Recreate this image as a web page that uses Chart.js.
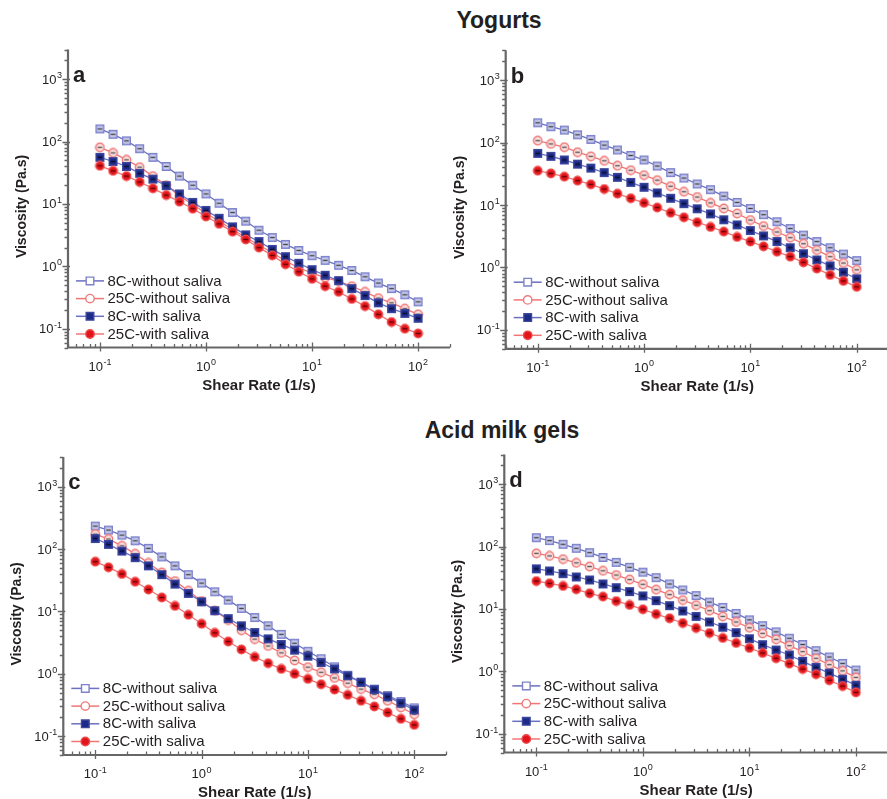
<!DOCTYPE html>
<html>
<head>
<meta charset="utf-8">
<title>Viscosity vs shear rate</title>
<script src="https://cdn.jsdelivr.net/npm/chart.js@4.4.1/dist/chart.umd.min.js"></script>
<style>
  html, body { margin: 0; padding: 0; background: #fff; }
  body { width: 887px; height: 799px; overflow: hidden; position: relative;
         font-family: "Liberation Sans", Arial, Helvetica, sans-serif; }
  .heading { position: absolute; width: 240px; text-align: center; font-weight: bold;
             font-size: 23px; line-height: 26px; color: #231f20; white-space: nowrap; }
  .panel { position: absolute; }
</style>
</head>
<body>
<div class="heading" style="left:379px; top:7px;">Yogurts</div>
<div class="heading" style="left:382px; top:417px;">Acid milk gels</div>

<canvas id="panelA" class="panel" width="460" height="365" style="left:0px; top:40px;"></canvas>
<canvas id="panelB" class="panel" width="460" height="365" style="left:440px; top:40px;"></canvas>
<canvas id="panelC" class="panel" width="460" height="354" style="left:0px; top:445px;"></canvas>
<canvas id="panelD" class="panel" width="460" height="354" style="left:440px; top:445px;"></canvas>

<script>
// ---- Data -------------------------------------------------------------
// Shear rate sweep (1/s), 8 points per decade
const shearRate = [0.1, 0.133, 0.178, 0.237, 0.316, 0.422, 0.562, 0.75,
                   1, 1.33, 1.78, 2.37, 3.16, 4.22, 5.62, 7.5,
                   10, 13.3, 17.8, 23.7, 31.6, 42.2, 56.2, 75, 100];

const seriesNames = ['8C-without saliva', '25C-without saliva', '8C-with saliva', '25C-with saliva'];

// Axis decades (exponents of 10) that carry labels
const xTickExponents = [-1, 0, 1, 2];
const yTickExponents = [-1, 0, 1, 2, 3];

// Yogurts, panel a — viscosity (Pa.s)
const yogA_8C_noSaliva  = [160, 131, 103, 77, 56, 40, 28, 20, 14.5, 10.3, 7.3, 5.3, 3.8, 2.9, 2.25, 1.8, 1.48, 1.25, 1.04, 0.86, 0.68, 0.54, 0.44, 0.35, 0.27];
const yogA_25C_noSaliva = [81, 66, 51, 39, 28, 20, 13.5, 9.8, 7.1, 5.3, 3.9, 2.9, 2.2, 1.65, 1.22, 0.95, 0.78, 0.66, 0.58, 0.48, 0.39, 0.31, 0.26, 0.21, 0.17];
const yogA_8C_saliva    = [56, 48, 40, 31, 25, 19.7, 14.5, 10.6, 7.9, 5.9, 4.3, 3.2, 2.5, 1.87, 1.43, 1.12, 0.885, 0.72, 0.59, 0.44, 0.34, 0.26, 0.21, 0.176, 0.147];
const yogA_25C_saliva   = [41, 34, 28, 22.5, 17.8, 13.9, 10.9, 8.4, 6.3, 4.8, 3.6, 2.7, 2.0, 1.5, 1.08, 0.82, 0.63, 0.48, 0.39, 0.30, 0.23, 0.17, 0.128, 0.10, 0.084];

// Yogurts, panel b
const yogB_8C_noSaliva  = [207, 179, 158, 133, 112, 91, 76, 62, 52.5, 42, 33, 27, 21.7, 17.6, 13.9, 11, 8.8, 7.0, 5.4, 4.2, 3.3, 2.6, 2.07, 1.64, 1.29];
const yogB_25C_noSaliva = [107, 95, 84, 70, 60, 51, 42.5, 36, 30, 25, 20, 16.3, 13.4, 10.8, 8.8, 7.3, 5.75, 4.6, 3.7, 3.0, 2.4, 1.9, 1.49, 1.18, 0.92];
const yogB_8C_saliva    = [67, 60, 52.5, 45, 39, 33, 27.7, 23, 19.2, 15.6, 12.8, 10.5, 8.7, 7.2, 5.8, 4.8, 3.9, 3.2, 2.6, 2.07, 1.66, 1.32, 1.06, 0.84, 0.66];
const yogB_25C_saliva   = [35.4, 32, 28.4, 24.5, 21.4, 18, 15.2, 12.8, 10.8, 9.1, 7.5, 6.35, 5.3, 4.45, 3.75, 3.08, 2.6, 2.18, 1.79, 1.49, 1.21, 0.96, 0.76, 0.61, 0.49];

// Acid milk gels, panel c
const gelC_8C_noSaliva  = [234, 202, 168, 136, 103, 75, 54, 39, 28.5, 20.7, 15.2, 11.2, 8.0, 5.9, 4.3, 3.1, 2.3, 1.75, 1.3, 0.95, 0.74, 0.57, 0.45, 0.36, 0.285];
const gelC_25C_noSaliva = [174, 145, 113, 84, 60, 42, 30.7, 21.5, 14.7, 10.3, 7.3, 5.0, 3.6, 2.8, 2.17, 1.64, 1.28, 1.06, 0.86, 0.71, 0.57, 0.47, 0.37, 0.29, 0.225];
const gelC_8C_saliva    = [148, 119, 93, 73, 54, 39, 27.5, 19.5, 14.3, 10.3, 7.7, 5.9, 4.6, 3.64, 2.96, 2.4, 1.92, 1.52, 1.2, 0.93, 0.73, 0.56, 0.43, 0.34, 0.265];
const gelC_25C_saliva   = [63, 51, 40, 30, 22.5, 16.8, 12.3, 8.85, 6.35, 4.55, 3.3, 2.46, 1.87, 1.48, 1.2, 1.0, 0.83, 0.68, 0.56, 0.46, 0.37, 0.30, 0.24, 0.19, 0.152];

// Acid milk gels, panel d
const gelD_8C_noSaliva  = [139, 125, 109, 94, 80, 67, 56, 46.6, 39, 31.8, 25.2, 20.2, 16.4, 12.9, 10.6, 8.5, 6.7, 5.4, 4.3, 3.4, 2.7, 2.15, 1.7, 1.34, 1.05];
const gelD_25C_noSaliva = [78, 71, 63, 55, 48, 41, 35, 29.6, 24.9, 20.4, 17, 13.9, 11.5, 9.4, 7.6, 6.2, 5.0, 4.07, 3.26, 2.58, 2.07, 1.62, 1.28, 1.02, 0.80];
const gelD_8C_saliva    = [44, 40.7, 36.9, 32.6, 29.2, 25.2, 22, 19, 16.2, 13.6, 11.3, 9.3, 7.6, 6.2, 5.1, 4.17, 3.34, 2.68, 2.2, 1.83, 1.45, 1.16, 0.94, 0.75, 0.60];
const gelD_25C_saliva   = [28, 25.8, 23.4, 20.7, 17.8, 15.8, 13.4, 11.6, 9.9, 8.3, 7.1, 5.96, 4.95, 4.12, 3.43, 2.85, 2.37, 1.97, 1.62, 1.33, 1.09, 0.90, 0.72, 0.58, 0.46];

// ---- Styling ----------------------------------------------------------
const FONT = '"Liberation Sans", Arial, Helvetica, sans-serif';
const TEXT = '#231f20';
const AXIS = '#666666';
const BLUE_LINE = '#6a70c2';
const RED_LINE  = '#f07676';

// Small canvas markers (with the dark error-bar dash in the middle)
function makeMarker(shape, fill, stroke, dash) {
  const c = document.createElement('canvas');
  c.width = 11; c.height = 11;
  const g = c.getContext('2d');
  g.fillStyle = fill; g.strokeStyle = stroke; g.lineWidth = 1.4;
  g.beginPath();
  if (shape === 'square') g.rect(1.7, 1.7, 7.6, 7.6);
  else g.arc(5.5, 5.5, 4.2, 0, Math.PI * 2);
  g.fill(); g.stroke();
  if (dash) { g.fillStyle = dash; g.fillRect(3.2, 4.8, 4.6, 1.4); }
  return c;
}

const seriesStyle = [
  { line: BLUE_LINE, shape: 'square', fill: '#cbcdec', stroke: '#7c82cc', legendFill: '#ffffff', dash: 'rgba(50,50,50,0.9)' },
  { line: RED_LINE,  shape: 'circle', fill: '#fbe0e0', stroke: '#f07a7a', legendFill: '#ffffff', dash: 'rgba(60,60,60,0.85)' },
  { line: BLUE_LINE, shape: 'square', fill: '#1d2a86', stroke: '#3d479e', legendFill: '#1d2a86', dash: 'rgba(10,10,30,0.9)' },
  { line: RED_LINE,  shape: 'circle', fill: '#e3151c', stroke: '#ee4a4a', legendFill: '#e3151c', dash: 'rgba(70,0,0,0.85)' }
];
seriesStyle.forEach(s => { s.marker = makeMarker(s.shape, s.fill, s.stroke, s.dash); });

// ---- Axes, labels and legend drawn on the chart's own scales ----------
function drawPow10(ctx, exp, x, y, align) {
  const base = '10', sup = String(exp);
  ctx.font = '13px ' + FONT;
  const wb = ctx.measureText(base).width;
  ctx.font = '9px ' + FONT;
  const ws = ctx.measureText(sup).width;
  const total = wb + ws + 0.5;
  let x0 = align === 'center' ? x - total / 2 : x - total;
  ctx.textAlign = 'left';
  ctx.textBaseline = 'alphabetic';
  ctx.fillStyle = TEXT;
  ctx.font = '13px ' + FONT;
  ctx.fillText(base, x0, y);
  ctx.font = '9px ' + FONT;
  ctx.fillText(sup, x0 + wb + 0.5, y - 5.5);
}

const frame = {
  id: 'frame',
  afterDraw(chart, args, opts) {
    const ctx = chart.ctx, ca = chart.chartArea;
    const xs = chart.scales.x, ys = chart.scales.y;
    ctx.save();

    // ticks
    ctx.strokeStyle = AXIS; ctx.lineWidth = 1.3;
    ctx.beginPath();
    for (let e = -2; e <= 3; e++) {
      for (let m = 1; m <= 9; m++) {
        const v = m * Math.pow(10, e);
        if (v >= ys.min * 0.999 && v <= ys.max * 1.001) {
          const py = Math.round(ys.getPixelForValue(v)) + 0.5;
          ctx.moveTo(ca.left - (m === 1 ? 5.5 : 3.5), py);
          ctx.lineTo(ca.left + (m === 1 ? 2 : 0), py);
        }
        if (v >= xs.min * 0.999 && v <= xs.max * 1.001) {
          const px = Math.round(xs.getPixelForValue(v)) + 0.5;
          ctx.moveTo(px, ca.bottom + (m === 1 ? 4 : 0));
          ctx.lineTo(px, ca.bottom - (m === 1 ? 5 : 3.5));
        }
      }
    }
    ctx.stroke();

    // axis lines
    ctx.lineWidth = 2.2;
    ctx.beginPath();
    ctx.moveTo(ca.left, ca.top);
    ctx.lineTo(ca.left, ca.bottom);
    ctx.lineTo(ca.right, ca.bottom);
    ctx.stroke();

    // tick labels
    yTickExponents.forEach(e => {
      const py = ys.getPixelForValue(Math.pow(10, e));
      drawPow10(ctx, e, ca.left - 6, py + 4.5, 'right');
    });
    xTickExponents.forEach(e => {
      const px = xs.getPixelForValue(Math.pow(10, e));
      drawPow10(ctx, e, px, ca.bottom + 23, 'center');
    });

    // axis titles
    ctx.fillStyle = TEXT;
    ctx.textAlign = 'center';
    ctx.textBaseline = 'middle';
    ctx.font = 'bold 15px ' + FONT;
    ctx.fillText('Shear Rate (1/s)', (ca.left + ca.right) / 2, ca.bottom + 38);
    ctx.save();
    ctx.translate(ca.left - 46, (ca.top + ca.bottom) / 2 + 8);
    ctx.rotate(-Math.PI / 2);
    ctx.font = 'bold 14px ' + FONT;
    ctx.fillText('Viscosity (Pa.s)', 0, 0);
    ctx.restore();

    // panel letter
    ctx.textAlign = 'left';
    ctx.textBaseline = 'alphabetic';
    ctx.font = 'bold 22px ' + FONT;
    ctx.fillText(opts.letter, ca.left + 5, ys.getPixelForValue(1000) + 2.5);

    // legend
    chart.data.datasets.forEach((ds, i) => {
      const st = seriesStyle[i];
      const ry = ca.bottom - 13.5 - (3 - i) * 17.7;
      const lx = ca.left + 8;
      ctx.strokeStyle = st.line; ctx.lineWidth = 1.5;
      ctx.beginPath(); ctx.moveTo(lx, ry); ctx.lineTo(lx + 28, ry); ctx.stroke();
      ctx.fillStyle = st.legendFill;
      ctx.strokeStyle = st.stroke; ctx.lineWidth = 1.4;
      ctx.beginPath();
      if (st.shape === 'square') ctx.rect(lx + 14 - 3.8, ry - 3.8, 7.6, 7.6);
      else ctx.arc(lx + 14, ry, 4.2, 0, Math.PI * 2);
      ctx.fill(); ctx.stroke();
      ctx.fillStyle = TEXT;
      ctx.font = '15px ' + FONT;
      ctx.textBaseline = 'middle';
      ctx.fillText(ds.label, lx + 31.5, ry + 0.5);
    });

    ctx.restore();
  }
};

// ---- Panels -----------------------------------------------------------
function buildPanel(canvasId, letter, series, pad) {
  const datasets = series.map((vals, i) => ({
    label: seriesNames[i],
    data: shearRate.map((x, k) => ({ x: x, y: vals[k] })),
    borderColor: seriesStyle[i].line,
    borderWidth: 1.3,
    pointStyle: seriesStyle[i].marker,
    pointRadius: 5,
    order: 3 - i,
    tension: 0,
    fill: false
  }));
  new Chart(document.getElementById(canvasId), {
    type: 'line',
    data: { datasets },
    options: {
      responsive: false,
      animation: false,
      devicePixelRatio: 1,
      layout: { padding: pad },
      plugins: { legend: { display: false }, tooltip: { enabled: false }, frame: { letter } },
      scales: {
        x: { type: 'logarithmic', min: 0.05, max: 200, display: false },
        y: { type: 'logarithmic', min: 0.05, max: 3000, display: false }
      }
    },
    plugins: [frame]
  });
}

buildPanel('panelA', 'a', [yogA_8C_noSaliva, yogA_25C_noSaliva, yogA_8C_saliva, yogA_25C_saliva],
           { left: 68, top: 9.5, right: 10, bottom: 57.5 });
buildPanel('panelB', 'b', [yogB_8C_noSaliva, yogB_25C_noSaliva, yogB_8C_saliva, yogB_25C_saliva],
           { left: 65.7, top: 10.2, right: 11.3, bottom: 56.2 });
buildPanel('panelC', 'c', [gelC_8C_noSaliva, gelC_25C_noSaliva, gelC_8C_saliva, gelC_25C_saliva],
           { left: 63.3, top: 12, right: 13.8, bottom: 44 });
buildPanel('panelD', 'd', [gelD_8C_noSaliva, gelD_25C_noSaliva, gelD_8C_saliva, gelD_25C_saliva],
           { left: 64.3, top: 9.5, right: 12, bottom: 46.5 });
</script>
</body>
</html>
